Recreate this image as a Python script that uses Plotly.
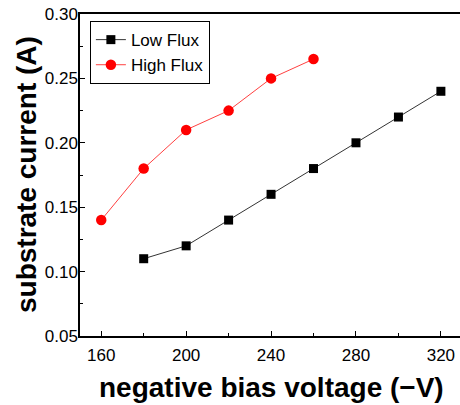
import plotly.graph_objects as go

low_x = [180, 200, 220, 240, 260, 280, 300, 320]
low_y = [0.11, 0.12, 0.14, 0.16, 0.18, 0.20, 0.22, 0.24]
high_x = [160, 180, 200, 220, 240, 260]
high_y = [0.14, 0.18, 0.21, 0.225, 0.25, 0.265]

x_ticks = [160, 200, 240, 280, 320]
y_ticks = [0.05, 0.10, 0.15, 0.20, 0.25, 0.30]

font = "Liberation Sans, Arial, sans-serif"

fig = go.Figure()
fig.add_trace(go.Scatter(x=low_x, y=low_y, mode="lines+markers", name="Low Flux",
                         line=dict(color="#333333", width=1),
                         marker=dict(symbol="square", size=9, color="black")))
fig.add_trace(go.Scatter(x=high_x, y=high_y, mode="lines+markers", name="High Flux",
                         line=dict(color="#ff4040", width=1),
                         marker=dict(symbol="circle", size=10.5, color="#ff0000")))

fig.update_layout(
    width=460, height=405,
    margin=dict(l=80, r=0, t=14, b=69),
    paper_bgcolor="white", plot_bgcolor="white",
    font=dict(family=font, color="black", size=17),
    legend=dict(x=0.026, y=0.978, xanchor="left", yanchor="top",
                bordercolor="black", borderwidth=1, bgcolor="white",
                font=dict(size=17), tracegroupgap=0, itemwidth=30),
    showlegend=True,
    annotations=[
        dict(text="<b>negative bias voltage (\u2212V)</b>", xref="paper", yref="paper",
             x=0.503, y=-0.161, xanchor="center", yanchor="middle", showarrow=False,
             font=dict(size=28)),
        dict(text="<b>substrate current (A)</b>", xref="paper", yref="paper",
             x=-0.142, y=0.5, xanchor="center", yanchor="middle", showarrow=False,
             textangle=-90, font=dict(size=28)),
    ],
)
fig.update_xaxes(
    range=[150, 329], tickvals=x_ticks, ticktext=[str(v) for v in x_ticks],
    showgrid=False, zeroline=False, automargin=False,
    showline=True, linecolor="black", linewidth=1.5, mirror=True,
    ticks="inside", ticklen=5, tickwidth=1.2, tickcolor="black",
    minor=dict(tickvals=[180, 220, 260, 300], ticks="inside", ticklen=3, tickwidth=1.2, tickcolor="black"),
    tickfont=dict(size=17), ticklabelstandoff=3,
)
fig.update_yaxes(
    range=[0.05, 0.30], tickvals=y_ticks, ticktext=["%.2f" % v for v in y_ticks],
    showgrid=False, zeroline=False, automargin=False,
    showline=True, linecolor="black", linewidth=1.5, mirror=False,
    ticks="inside", ticklen=5, tickwidth=1.2, tickcolor="black",
    minor=dict(tickvals=[0.075, 0.125, 0.175, 0.225, 0.275], ticks="inside", ticklen=3, tickwidth=1.2, tickcolor="black"),
    tickfont=dict(size=17), ticklabelstandoff=-3,
)

fig.write_html("out.html", config={"displayModeBar": False},
               post_script="document.body.style.margin='0';document.body.style.overflow='hidden';")
